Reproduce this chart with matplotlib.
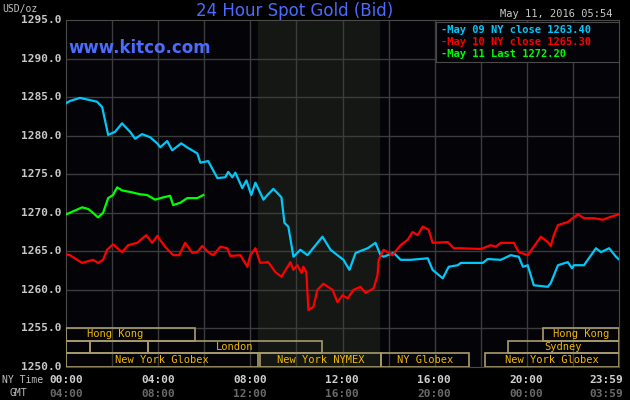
import matplotlib
matplotlib.use("Agg")
import matplotlib.pyplot as plt
from matplotlib.patches import Rectangle

blue_h = [0.00,0.17,0.61,1.35,1.57,1.83,2.13,2.43,2.78,3.00,3.30,3.65,3.96,4.09,4.39,4.61,5.00,5.30,5.70,5.83,6.17,6.57,6.91,7.04,7.22,7.35,7.65,7.83,8.04,8.22,8.57,8.74,9.00,9.35,9.48,9.65,9.87,10.17,10.48,11.13,11.48,11.78,12.04,12.30,12.57,13.09,13.43,13.65,13.78,14.22,14.52,14.96,15.70,15.91,16.35,16.61,17.00,17.13,18.09,18.30,18.87,19.30,19.65,19.83,20.04,20.30,20.91,21.04,21.35,21.78,21.96,22.04,22.48,23.00,23.22,23.57,23.87,23.98]
blue_p = [1284.2,1284.5,1284.9,1284.4,1283.7,1280.1,1280.5,1281.6,1280.5,1279.6,1280.2,1279.8,1279.0,1278.5,1279.3,1278.1,1279.0,1278.4,1277.7,1276.5,1276.7,1274.5,1274.6,1275.3,1274.6,1275.2,1273.2,1274.2,1272.3,1273.9,1271.7,1272.3,1273.1,1272.0,1268.7,1268.2,1264.3,1265.2,1264.5,1266.9,1265.2,1264.5,1263.9,1262.6,1264.8,1265.4,1266.1,1264.5,1264.3,1264.8,1263.9,1263.9,1264.1,1262.6,1261.5,1263.0,1263.2,1263.5,1263.5,1264.0,1263.9,1264.5,1264.3,1263.0,1263.2,1260.6,1260.4,1260.9,1263.2,1263.6,1262.8,1263.2,1263.2,1265.4,1264.9,1265.4,1264.3,1264.0]

red_h = [0.00,0.17,0.70,1.17,1.39,1.61,1.78,2.04,2.43,2.70,3.09,3.48,3.74,3.96,4.30,4.65,4.91,5.17,5.48,5.70,5.91,6.17,6.39,6.70,7.00,7.13,7.57,7.87,8.00,8.22,8.43,8.78,9.09,9.35,9.74,9.87,10.04,10.22,10.30,10.43,10.52,10.74,10.91,11.17,11.57,11.78,12.00,12.22,12.48,12.78,13.00,13.35,13.52,13.57,13.78,14.17,14.52,14.83,15.04,15.26,15.48,15.74,15.91,16.57,16.83,17.13,18.00,18.43,18.65,18.87,19.43,19.65,20.04,20.30,20.61,20.91,21.04,21.17,21.35,21.78,22.04,22.22,22.48,22.91,23.30,23.57,23.98]
red_p = [1264.6,1264.5,1263.5,1263.9,1263.5,1263.9,1265.2,1265.9,1264.9,1265.8,1266.1,1267.1,1266.1,1267.0,1265.6,1264.5,1264.5,1266.1,1264.8,1264.9,1265.7,1264.9,1264.5,1265.6,1265.4,1264.4,1264.5,1263.0,1264.5,1265.4,1263.5,1263.6,1262.3,1261.7,1263.6,1262.6,1263.2,1262.2,1263.0,1262.3,1257.4,1257.8,1260.0,1260.8,1260.0,1258.4,1259.3,1258.9,1260.0,1260.4,1259.6,1260.2,1261.9,1263.9,1265.2,1264.5,1265.8,1266.5,1267.5,1267.1,1268.2,1267.8,1266.1,1266.2,1265.4,1265.4,1265.3,1265.8,1265.6,1266.1,1266.1,1264.9,1264.5,1265.6,1266.9,1266.2,1265.7,1267.1,1268.4,1268.8,1269.4,1269.8,1269.3,1269.3,1269.1,1269.4,1269.8]

green_h = [0.00,0.17,0.70,0.96,1.17,1.39,1.61,1.83,2.04,2.22,2.43,2.78,3.22,3.52,3.87,4.22,4.52,4.65,4.96,5.26,5.70,5.96]
green_p = [1269.8,1270.0,1270.7,1270.5,1270.0,1269.4,1270.0,1271.9,1272.3,1273.3,1272.9,1272.7,1272.4,1272.3,1271.7,1272.0,1272.2,1271.0,1271.3,1271.9,1271.9,1272.3]

y_ticks = [1250, 1255, 1260, 1265, 1270, 1275, 1280, 1285, 1290, 1295]
x_ticks = [0, 4, 8, 12, 16, 20, 24]
ny_labels = ["00:00", "04:00", "08:00", "12:00", "16:00", "20:00", "23:59"]
gmt_labels = ["04:00", "08:00", "12:00", "16:00", "20:00", "00:00", "03:59"]
legend_labels = ["May 09 NY close 1263.40", "May 10 NY close 1265.30", "May 11 Last 1272.20"]

# sessions: (row, start hour, end hour, label)
sessions = [
    (0, 0.0, 5.6, "Hong Kong"), (0, 20.7, 24.0, "Hong Kong"),
    (1, 0.0, 1.04, ""), (1, 1.04, 3.57, ""), (1, 3.57, 11.1, "London"), (1, 19.17, 24.0, "Sydney"),
    (2, 0.0, 8.35, "New York Globex"), (2, 8.43, 13.65, "New York NYMEX"),
    (2, 13.65, 17.48, "NY Globex"), (2, 18.2, 24.0, "New York Globex"),
]
row_y = [(1253.4, 1255.05), (1251.8, 1253.4), (1250.0, 1251.8)]

mono = "DejaVu Sans Mono"
fig = plt.figure(figsize=(6.3, 4.0), dpi=100, facecolor="black")
ax = fig.add_axes([66/630, 1-367/400, (619-66)/630, (367-20)/400])
ax.set_facecolor("#030308")
ax.set_xlim(0, 24)
ax.set_ylim(1250, 1295)
ax.axvspan(8.35, 13.6, color="#141714", zorder=0)
for h in range(2, 24, 2):
    ax.axvline(h, color="#3c3c3c", lw=1, zorder=1)
for y in y_ticks[1:-1]:
    ax.axhline(y, color="#3c3c3c", lw=1, zorder=1)
for s in ax.spines.values():
    s.set_color("#4a4a4a")
ax.set_xticks([]); ax.set_yticks([])

ax.plot(blue_h, blue_p, color="#00c8f8", lw=1.6, zorder=3)
ax.plot(red_h, red_p, color="#ff0000", lw=1.6, zorder=3)
ax.plot(green_h, green_p, color="#00ff00", lw=1.6, zorder=3)

for row, a, b, lab in sessions:
    y0, y1 = row_y[row]
    ax.add_patch(Rectangle((a, y0), b - a, y1 - y0, fill=False, ec="#a89c6c", lw=1.2, zorder=4))
    if lab:
        left = (row == 0 and a == 0.0)
        ax.text(a + 0.9 if left else (a + b) / 2, (y0 + y1) / 2, lab, color="#f0b800",
                family=mono, fontsize=7.5, ha="left" if left else "center", va="center", zorder=5)

for y in y_ticks:
    fig.text(61/630, 1 - (20 + (1295 - y) * 7.71) / 400, f"{y:.1f}", color="#c8c8c8",
             family=mono, fontsize=8, fontweight="bold", ha="right", va="center")
for h, a, b in zip(x_ticks, ny_labels, gmt_labels):
    xp = (66 + h * 23) / 630
    ha = "center"
    if h == 24:
        xp, ha = 623/630, "right"
    fig.text(xp, 1 - 380/400, a, color="#d0d0d0", family=mono, fontsize=8, fontweight="bold", ha=ha, va="center")
    fig.text(xp, 1 - 394/400, b, color="#6a6a6a", family=mono, fontsize=8, fontweight="bold", ha=ha, va="center")
fig.text(2/630, 1 - 380/400, "NY Time", color="#c0c0c0", family=mono, fontsize=7, va="center")
fig.text(10/630, 1 - 393/400, "GMT", color="#c0c0c0", family=mono, fontsize=7, va="center")
fig.text(2/630, 1 - 9/400, "USD/oz", color="#c0c0c0", family=mono, fontsize=7, va="center")
fig.text(295/630, 1 - 11/400, "24 Hour Spot Gold (Bid)", color="#4a6cff", fontsize=12, ha="center", va="center")
fig.text(68/630, 1 - 48/400, "www.kitco.com", color="#4a6cff", fontsize=12, fontweight="bold", va="center")
fig.text(612/630, 1 - 14/400, "May 11, 2016 05:54", color="#c8c8c8", family=mono, fontsize=7.5, ha="right", va="center")

leg = fig.add_axes([436/630, 1 - 62/400, (619-436)/630, 40/400])
leg.set_facecolor("#030308"); leg.set_xticks([]); leg.set_yticks([])
for s in leg.spines.values():
    s.set_color("#4a4a4a")
for i, (lab, c) in enumerate(zip(legend_labels, ["#00c8f8", "#ff0000", "#00ff00"])):
    leg.text(0.03, 0.8 - i * 0.3, "-" + lab, color=c, family=mono, fontsize=7.5,
             fontweight="bold", va="center", transform=leg.transAxes)

fig.savefig("out.png", dpi=100, facecolor="black")
